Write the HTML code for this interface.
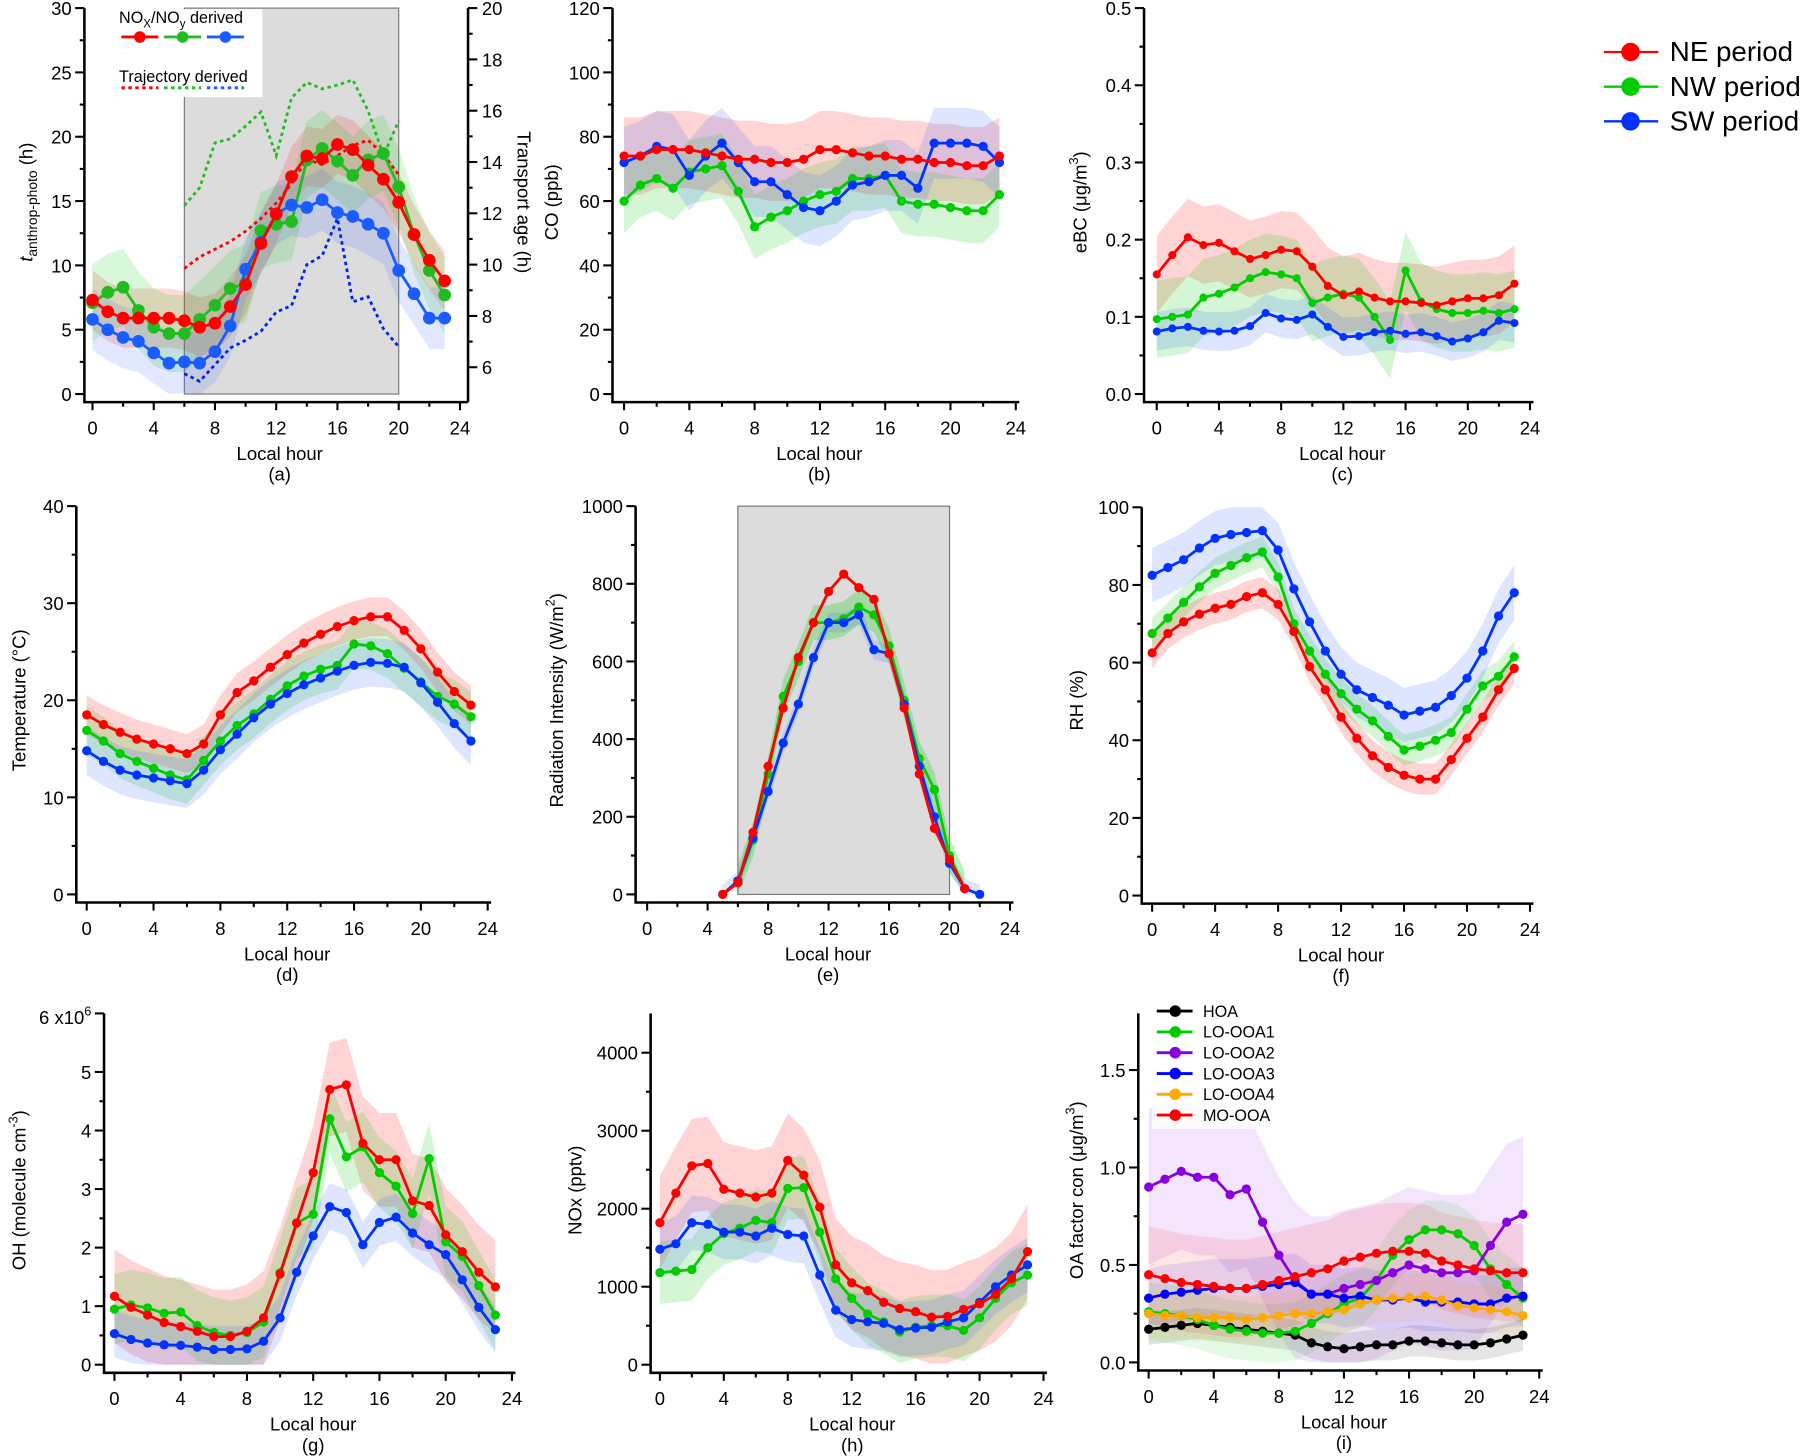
<!DOCTYPE html>
<html><head><meta charset="utf-8"><style>
html,body{margin:0;padding:0;background:#fff}
svg{display:block;font-family:"Liberation Sans",Arial,sans-serif}
</style></head><body>
<svg id="fig" width="1812" height="1456" viewBox="0 0 1568 1260" xmlns="http://www.w3.org/2000/svg"></svg>
<script>
// ---------- data ----------
const hours = [0,1,2,3,4,5,6,7,8,9,10,11,12,13,14,15,16,17,18,19,20,21,22,23];
const trajHours = [6,7,8,9,10,11,12,13,14,15,16,17,18,19,20];
const radHours = [5,6,7,8,9,10,11,12,13,14,15,16,17,18,19,20,21,22];
const xTickLabels = ['0','4','8','12','16','20','24'];
// (a) t_anthrop-photo
const aNE = [7.3,6.4,5.9,5.9,5.9,5.9,5.7,5.2,5.5,6.8,8.5,11.7,14,16.9,18.5,18.3,19.4,19,17.8,16.7,14.9,12.4,10.4,8.8];
const aNW = [7.1,7.9,8.3,6.5,5.2,4.7,4.7,5.8,6.9,8.2,8.6,12.7,13.2,13.4,18.2,19.1,18.1,17,18.2,18.7,16.1,12.4,9.6,7.7];
const aSW = [5.8,5,4.4,4.1,3.2,2.4,2.5,2.4,3.3,5.3,9.7,11.8,14,14.7,14.5,15.1,14.1,13.8,13.2,12.5,9.6,7.8,5.9,5.9];
const aTrajNE = [9.85,10.3,10.6,10.9,11.3,11.8,12.4,13.15,14.1,13.9,14.25,14.65,14.85,14.3,13.5];
const aTrajNW = [12.3,13,14.75,14.9,15.4,15.95,14.25,16.5,17.1,16.85,17,17.2,16,14.25,15.6];
const aTrajSW = [5.75,5.45,6.1,6.75,7.05,7.4,8.15,8.4,10,10.35,11.8,8.55,8.75,7.5,6.8];
const aYTicks = ['0','5','10','15','20','25','30'];
const aY2Ticks = ['6','8','10','12','14','16','18','20'];
// (b) CO
const bNE = [74,74,76,76,76,75,74,73,73,72,72,73,76,76,75,74,74,73,73,72,72,71,71,74];
const bNW = [60,65,67,64,69,70,71,63,52,55,57,60,62,63,67,67,68,60,59,59,58,57,57,62];
const bSW = [72,74,77,76,68,74,78,72,66,66,62,58,57,60,65,66,68,68,64,78,78,78,77,72];
const bYTicks = ['0','20','40','60','80','100','120'];
// (c) eBC
const cNE = [.155,.18,.203,.193,.196,.185,.175,.18,.187,.185,.165,.14,.128,.133,.125,.12,.12,.118,.115,.12,.124,.124,.128,.143];
const cNW = [.097,.1,.103,.125,.13,.138,.15,.158,.155,.15,.118,.125,.13,.125,.1,.07,.16,.12,.11,.105,.105,.108,.105,.11];
const cSW = [.081,.085,.087,.082,.081,.082,.088,.105,.098,.096,.103,.087,.074,.075,.08,.082,.078,.08,.075,.068,.072,.08,.095,.092];
const cYTicks = ['0.0','0.1','0.2','0.3','0.4','0.5'];
// (d) Temperature
const dNE = [18.5,17.5,16.7,16,15.5,15,14.5,15.5,18.5,20.8,22,23.4,24.7,25.9,26.8,27.6,28.2,28.6,28.6,27.2,25.3,22.9,20.9,19.5];
const dNW = [16.9,15.8,14.5,13.7,13,12.3,11.8,13.8,15.8,17.4,18.6,20.1,21.5,22.5,23.2,23.6,25.8,25.6,24.8,23.3,21.9,20.4,19.6,18.3];
const dSW = [14.8,13.7,12.8,12.3,12,11.7,11.4,12.8,14.9,16.5,18.2,19.6,20.7,21.6,22.3,23,23.6,23.9,23.8,23.4,21.8,19.8,17.6,15.8];
const dYTicks = ['0','10','20','30','40'];
// (e) Radiation
const eNE = [0,30,160,330,480,610,700,780,825,790,760,620,480,310,170,90,15,null];
const eNW = [null,30,140,310,510,600,700,700,710,740,720,640,500,350,270,100,15,null];
const eSW = [0,35,145,265,390,490,610,700,700,720,630,620,490,330,200,80,15,0];
const eYTicks = ['0','200','400','600','800','1000'];
// (f) RH
const fNE = [62.5,67.5,70.5,72.5,74,75,77,78,75,68,59,53,46,40.5,36,33,31,30,30,35,40.5,46,53,58.5];
const fNW = [67.5,71.5,75.5,79.5,83,85,87,88.5,82,70,63,57,52,48,45,41,37.5,38.5,40,42,48,54,56.5,61.5];
const fSW = [82.5,84.5,86.5,89.5,92,93,93.5,94,89,79,70.5,63,57,53,51,49,46.5,47.5,48.5,51.5,56,63,72,78];
const fYTicks = ['0','20','40','60','80','100'];
// (g) OH (x1e6)
const gNE = [1.17,.98,.85,.72,.65,.57,.48,.48,.57,.8,1.55,2.42,3.28,4.7,4.78,3.78,3.5,3.5,2.8,2.72,2.22,1.93,1.58,1.33];
const gNW = [.95,1.02,.97,.88,.9,.67,.55,.5,.55,.73,1.57,2.42,2.57,4.2,3.55,3.72,3.28,3.05,2.58,3.52,2.1,1.85,1.35,.85];
const gSW = [.53,.43,.37,.34,.33,.3,.26,.26,.27,.4,.8,1.58,2.2,2.7,2.6,2.05,2.43,2.52,2.25,2.05,1.88,1.45,.98,.6];
const gYTicks = ['0','1','2','3','4','5'];
// (h) NOx
const hNE = [1820,2200,2550,2580,2250,2200,2150,2200,2620,2430,2020,1280,1050,950,800,720,680,610,620,710,780,900,1100,1450];
const hNW = [1180,1200,1220,1500,1680,1750,1850,1820,2260,2270,1700,1100,850,650,550,420,480,500,500,440,600,850,1050,1150];
const hSW = [1480,1550,1820,1800,1700,1700,1650,1750,1670,1650,1150,700,580,550,530,450,470,480,550,600,800,1000,1150,1280];
const hYTicks = ['0','1000','2000','3000','4000'];
// (i) OA factors
const iHOA = [.17,.18,.19,.2,.19,.18,.17,.16,.15,.14,.1,.08,.07,.08,.09,.09,.11,.11,.1,.09,.09,.1,.12,.14];
const iOOA1 = [.26,.25,.24,.22,.19,.17,.16,.15,.15,.16,.2,.25,.3,.33,.42,.55,.63,.68,.68,.66,.6,.48,.4,.33];
const iOOA2 = [.9,.94,.98,.95,.95,.86,.89,.72,.55,.42,.35,.35,.38,.4,.42,.46,.5,.48,.46,.46,.47,.6,.72,.76];
const iOOA3 = [.33,.35,.36,.37,.38,.38,.38,.39,.4,.41,.35,.35,.33,.34,.32,.32,.33,.31,.31,.31,.3,.3,.33,.34];
const iOOA4 = [.25,.24,.24,.23,.23,.23,.22,.23,.24,.25,.25,.26,.27,.3,.32,.33,.33,.34,.32,.29,.28,.27,.26,.24];
const iMO = [.45,.43,.41,.4,.39,.38,.38,.4,.42,.44,.46,.48,.52,.54,.56,.57,.57,.56,.52,.5,.48,.47,.46,.46];
const iYTicks = ['0.0','0.5','1.0','1.5'];
const iLegend = ['HOA','LO-OOA1','LO-OOA2','LO-OOA3','LO-OOA4','MO-OOA'];

// ---------- drawing ----------
const NS='http://www.w3.org/2000/svg', svg=document.getElementById('fig');
function mk(tag,attrs,parent){const e=document.createElementNS(NS,tag);for(const k in attrs)e.setAttribute(k,attrs[k]);(parent||svg).appendChild(e);return e;}
const RED='#ff0000',GRN='#00cc00',BLU='#0033ff';

function panel(p){
  const g=mk('g',{});
  
  
  p.xs=h=>p.hx0+(p.hx24-p.hx0)*h/24;
  p.ys=v=>p.yb+(p.yt-p.yb)*(v-p.vmin)/(p.vmax-p.vmin);
  p.g=g; return p;
}
function axes(p){
  const g=p.g, top=p.axTop, bot=p.xAxisY;
  const ax=mk('path',{d:`M${p.ax},${top}V${bot}H${p.axR}`,fill:'none',stroke:'#000','stroke-width':2.2},g);
  
  for(let h=0;h<=24;h+=2){const x=p.xs(h);mk('line',{x1:x,x2:x,y1:bot,y2:bot+(h%4?4:7),stroke:'#000','stroke-width':1.8},g);}
  xTickLabels.forEach((t,i)=>{const tx=mk('text',{x:p.xs(i*4),y:bot+28,'font-size':16,'text-anchor':'middle'},g);tx.textContent=t;
    });
  const xl=mk('text',{x:(p.ax+p.axR)/2+3,y:bot+50,'font-size':16,'text-anchor':'middle'},g);xl.textContent='Local hour';
  
  const pl=mk('text',{x:(p.ax+p.axR)/2+3,y:bot+68,'font-size':16,'text-anchor':'middle'},g);pl.textContent=p.label;
  
  p.yTicks.forEach((t,i)=>{const v=p.vmin+i*p.ystep,y=p.ys(v);
    mk('line',{x1:p.ax-8,x2:p.ax,y1:y,y2:y,stroke:'#000','stroke-width':1.8},g);
    if(i<p.yTicks.length-1){const ym=p.ys(v+p.ystep/2);mk('line',{x1:p.ax-4,x2:p.ax,y1:ym,y2:ym,stroke:'#000','stroke-width':1.8},g);}
    const tx=mk('text',{x:p.ax-11,y:y+6,'font-size':16,'text-anchor':'end'},g);tx.textContent=t;
    });
}
function band(p,xsArr,vals,spread,color,op){
  let up=[],lo=[];
  vals.forEach((v,i)=>{if(v==null)return;const x=p.xs(xsArr[i]);up.push(x+','+p.ys(Math.min(p.vmax,v+spread)));lo.unshift(x+','+p.ys(Math.max(p.vmin,v-spread)));});
  const b=mk('polygon',{points:up.concat(lo).join(' '),fill:color,'fill-opacity':op||0.17,stroke:'none'},p.g);
  
}
function series(p,xsArr,vals,color,r,name,ysFn,dash){
  const ys=ysFn||p.ys;let d='',pen=false;
  vals.forEach((v,i)=>{if(v==null){pen=false;return;}d+=(pen?'L':'M')+p.xs(xsArr[i])+','+ys(v);pen=true;});
  const l=mk('path',{d,fill:'none',stroke:color,'stroke-width':2.4,'stroke-dasharray':dash||'none'},p.g);
  
  if(r)vals.forEach((v,i)=>{if(v==null)return;const c=mk('circle',{cx:p.xs(xsArr[i]),cy:ys(v),r,fill:color},p.g);
    });
}
function ytitle(p,x,y,html,size){const t=mk('text',{x:0,y:0,'font-size':size||16,'text-anchor':'middle',transform:`translate(${x},${y}) rotate(-90)`},p.g);t.innerHTML=html;
  return t;}

// (a)
let A=panel({name:'panel-a',ax:73,axR:405,axTop:7,xAxisY:348,hx0:80,hx24:398,yt:7,yb:341,vmin:0,vmax:30,ystep:5,yTicks:aYTicks,label:'(a)'});
mk('rect',{x:A.xs(6),y:7,width:A.xs(20)-A.xs(6),height:334,fill:'#dcdcdc',stroke:'#777','stroke-width':1},A.g);
band(A,hours,aNE,2.3,RED,0.15);band(A,hours,aNW,3,GRN,0.15);band(A,hours,aSW,2.4,'#3366ff',0.15);
const yR=v=>7+(20-v)*22.2;
series(A,trajHours,aTrajNE,RED,0,'ne-trajectory',yR,'3,3');
series(A,trajHours,aTrajNW,'#22bb22',0,'nw-trajectory',yR,'3,3');
series(A,trajHours,aTrajSW,'#0022ee',0,'sw-trajectory',yR,'3,3');
series(A,hours,aNW,'#22bb22',5.5,'nw-nox');series(A,hours,aSW,'#1a5cff',5.5,'sw-nox');series(A,hours,aNE,RED,5.5,'ne-nox');
axes(A);
mk('path',{d:'M405,7V348',stroke:'#000','stroke-width':2.2},A.g);
aY2Ticks.forEach((t,i)=>{const v=6+2*i,y=yR(v);mk('line',{x1:405,x2:413,y1:y,y2:y,stroke:'#000','stroke-width':1.8},A.g);
  const ym=yR(v+1);if(i<aY2Ticks.length-1)mk('line',{x1:405,x2:409,y1:ym,y2:ym,stroke:'#000','stroke-width':1.8},A.g);
  const tx=mk('text',{x:417,y:y+6,'font-size':16},A.g);tx.textContent=t;});
const at2=mk('text',{x:0,y:0,'font-size':16,'text-anchor':'middle',transform:'translate(448,175) rotate(90)'},A.g);at2.textContent='Transport age (h)';

ytitle(A,28,175,'<tspan font-style="italic">t</tspan><tspan font-size="12" dy="4">anthrop-photo</tspan><tspan dy="-4"> (h)</tspan>');
mk('rect',{x:99,y:8,width:128,height:76,fill:'#fff'},A.g);
let lt=mk('text',{x:103,y:20,'font-size':14},A.g);lt.innerHTML='NO<tspan font-size="10" dy="4">X</tspan><tspan dy="-4">/NO</tspan><tspan font-size="10" dy="4">y</tspan><tspan dy="-4"> derived</tspan>';

[RED,'#22bb22','#1a5cff'].forEach((c,i)=>{const x=105+i*37;mk('line',{x1:x,x2:x+32,y1:32,y2:32,stroke:c,'stroke-width':2.5},A.g);mk('circle',{cx:x+16,cy:32,r:5,fill:c},A.g);
  mk('line',{x1:x,x2:x+32,y1:76,y2:76,stroke:c,'stroke-width':2.5,'stroke-dasharray':'3,3'},A.g);});
lt=mk('text',{x:103,y:71,'font-size':14},A.g);lt.textContent='Trajectory derived';

// (b)
let B=panel({name:'panel-b',ax:530,axR:882,axTop:7,xAxisY:348,hx0:540,hx24:879,yt:7,yb:341,vmin:0,vmax:120,ystep:20,yTicks:bYTicks,label:'(b)'});
band(B,hours,bNE,12,RED);band(B,hours,bNW,10,GRN);band(B,hours,bSW,11,'#3366ff');
series(B,hours,bNW,GRN,4,'nw');series(B,hours,bSW,BLU,4,'sw');series(B,hours,bNE,RED,4,'ne');
axes(B);ytitle(B,483,175,'CO (ppb)');
// (c)
let C=panel({name:'panel-c',ax:990,axR:1327,axTop:7,xAxisY:348,hx0:1001,hx24:1324,yt:7,yb:341,vmin:0,vmax:0.5,ystep:0.1,yTicks:cYTicks,label:'(c)'});
band(C,hours,cNE,0.05,RED);band(C,hours,cNW,0.05,GRN);band(C,hours,cSW,0.025,'#3366ff');
series(C,hours,cNW,GRN,3.5,'nw');series(C,hours,cSW,BLU,3.5,'sw');series(C,hours,cNE,RED,3.5,'ne');
axes(C);ytitle(C,940,175,'eBC (μg/m<tspan font-size="11" dy="-7">3</tspan><tspan dy="7">)</tspan>');
[['NE period',RED],['NW period',GRN],['SW period',BLU]].forEach((e,i)=>{const y=45+30*i;
  const lg=mk('g',{});
  mk('line',{x1:1388,x2:1435,y1:y,y2:y,stroke:e[1],'stroke-width':2},lg);mk('circle',{cx:1411,cy:y,r:8,fill:e[1]},lg);
  const t=mk('text',{x:1445,y:y+8,'font-size':24},lg);t.textContent=e[0];});

// (d)
let D=panel({name:'panel-d',ax:66,axR:425,axTop:438,xAxisY:781,hx0:75,hx24:422,yt:438,yb:774,vmin:0,vmax:40,ystep:10,yTicks:dYTicks,label:'(d)'});
band(D,hours,dNE,2,RED);band(D,hours,dNW,2.5,GRN);band(D,hours,dSW,2.5,'#3366ff');
series(D,hours,dNW,GRN,4,'nw');series(D,hours,dSW,BLU,4,'sw');series(D,hours,dNE,RED,4,'ne');
axes(D);ytitle(D,22,606,'Temperature (°C)');
// (e)
let E=panel({name:'panel-e',ax:550,axR:877,axTop:438,xAxisY:781,hx0:560,hx24:874,yt:438,yb:774,vmin:0,vmax:1000,ystep:200,yTicks:eYTicks,label:'(e)'});
mk('rect',{x:E.xs(6),y:438,width:E.xs(20)-E.xs(6),height:336,fill:'#dcdcdc',stroke:'#777','stroke-width':1},E.g);
band(E,radHours,eNW,45,GRN,0.25);band(E,radHours,eSW,25,'#3366ff');
series(E,radHours,eNW,GRN,4,'nw');series(E,radHours,eSW,BLU,4,'sw');series(E,radHours,eNE,RED,4,'ne');
axes(E);ytitle(E,487,606,'Radiation Intensity (W/m<tspan font-size="11" dy="-7">2</tspan><tspan dy="7">)</tspan>');
// (f)
let F=panel({name:'panel-f',ax:988,axR:1327,axTop:439,xAxisY:782,hx0:997,hx24:1324,yt:439,yb:775,vmin:0,vmax:100,ystep:20,yTicks:fYTicks,label:'(f)'});
band(F,hours,fNE,4,RED);band(F,hours,fNW,4,GRN);band(F,hours,fSW,7,'#3366ff');
series(F,hours,fNW,GRN,4,'nw');series(F,hours,fNE,RED,4,'ne');series(F,hours,fSW,BLU,4,'sw');
axes(F);ytitle(F,937,606,'RH (%)');

// (g)
let G=panel({name:'panel-g',ax:90,axR:446,axTop:877,xAxisY:1188,hx0:99,hx24:443,yt:877,yb:1181,vmin:0,vmax:6,ystep:1,yTicks:gYTicks,label:'(g)'});
band(G,hours,gNE,0.8,RED);band(G,hours,gNW,0.6,GRN);band(G,hours,gSW,0.4,'#3366ff');
series(G,hours,gNW,GRN,4,'nw');series(G,hours,gSW,BLU,4,'sw');series(G,hours,gNE,RED,4,'ne');
axes(G);
mk('line',{x1:82,x2:90,y1:877,y2:877,stroke:'#000','stroke-width':1.8},G.g);
let t6=mk('text',{x:79,y:886,'font-size':16,'text-anchor':'end'},G.g);t6.innerHTML='6 x10<tspan font-size="11" dy="-7">6</tspan>';

ytitle(G,22,1030,'OH (molecule cm<tspan font-size="11" dy="-7">-3</tspan><tspan dy="7">)</tspan>');
// (h)
let H=panel({name:'panel-h',ax:563,axR:906,axTop:877,xAxisY:1188,hx0:571,hx24:903,yt:911,yb:1181,vmin:0,vmax:4000,ystep:1000,yTicks:hYTicks,label:'(h)'});
band(H,hours,hNE,600,RED);band(H,hours,hNW,400,GRN);band(H,hours,hSW,350,'#3366ff');
series(H,hours,hNW,GRN,4,'nw');series(H,hours,hSW,BLU,4,'sw');series(H,hours,hNE,RED,4,'ne');
axes(H);ytitle(H,503,1030,'NOx (pptv)');
// (i)
let I=panel({name:'panel-i',ax:985,axR:1335,axTop:877,xAxisY:1186,hx0:994,hx24:1332,yt:926,yb:1179,vmin:0,vmax:1.5,ystep:0.5,yTicks:iYTicks,label:'(i)'});
const iSeries=[[iHOA,'#000000',0.08],[iOOA1,'#00cc00',0.15],[iOOA2,'#8800dd',0.4],[iOOA3,'#0000ff',0.15],[iOOA4,'#ffaa00',0.12],[iMO,'#ff0000',0.25]];
iSeries.forEach(s=>band(I,hours,s[0],s[2],s[1],0.1));
iSeries.forEach((s,k)=>series(I,hours,s[0],s[1],4,'oa-'+iLegend[k].toLowerCase()));
axes(I);ytitle(I,937,1030,'OA factor con (μg/m<tspan font-size="11" dy="-7">3</tspan><tspan dy="7">)</tspan>');
mk('rect',{x:997,y:865,width:112,height:112,fill:'#fff','fill-opacity':0.85},I.g);
iLegend.forEach((n,k)=>{const y=875+18*k;const lg=mk('g',{},I.g);
  mk('line',{x1:1001,x2:1032,y1:y,y2:y,stroke:iSeries[k][1],'stroke-width':2.5},lg);mk('circle',{cx:1017,cy:y,r:5,fill:iSeries[k][1]},lg);
  const t=mk('text',{x:1041,y:y+5,'font-size':14},lg);t.textContent=n;});
</script>
</body></html>
